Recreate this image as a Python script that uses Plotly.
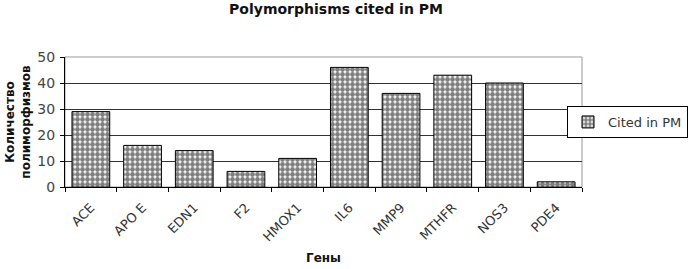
import plotly.graph_objects as go

genes = ["ACE", "APO E", "EDN1", "F2", "HMOX1", "IL6", "MMP9", "MTHFR", "NOS3", "PDE4"]
cited = [29, 16, 14, 6, 11, 46, 36, 43, 40, 2]
series_name = "Cited in PM"
y_ticks = [0, 10, 20, 30, 40, 50]

FONT = "DejaVu Sans, Arial"

fig = go.Figure()
fig.add_trace(go.Bar(
    x=genes, y=cited, name=series_name,
    marker=dict(
        color="white",
        line=dict(color="black", width=1),
        pattern=dict(shape=".", fgcolor="black", bgcolor="white", size=5, solidity=0.72),
    ),
    showlegend=True,
))

fig.update_layout(
    width=690, height=269,
    margin=dict(l=65, r=108, t=57, b=82, autoexpand=False),
    paper_bgcolor="white", plot_bgcolor="white",
    bargap=0.27,
    font=dict(family=FONT, color="#333"),
    title=dict(text="<b>Polymorphisms cited in PM</b>", x=0.487, xanchor="center",
               yref="container", y=0.965, yanchor="middle", font=dict(size=14, color="#111", family=FONT)),
    xaxis=dict(
        tickangle=-45, tickson="boundaries", ticks="outside", ticklen=4, tickcolor="black",
        showline=True, linecolor="black", linewidth=1, mirror=False, automargin=False,
        tickfont=dict(size=13, color="#333"), ticklabelstandoff=7,
        title=dict(text="<b>Гены</b>", font=dict(size=12, color="#111"), standoff=10),
    ),
    yaxis=dict(
        range=[0, 50], tickvals=y_ticks, ticks="outside", ticklen=4, tickcolor="black",
        showline=True, linecolor="black", linewidth=1, automargin=False,
        showgrid=True, gridcolor="#333", gridwidth=1, zeroline=False,
        tickfont=dict(size=14, color="#444"), ticklabelstandoff=2,
        title=dict(text="<b>Количество<br>полиморфизмов</b>", font=dict(size=12, color="#111"), standoff=4),
    ),
    legend=dict(x=1.205, xanchor="right", y=0.5, yanchor="middle",
                bordercolor="black", borderwidth=1, bgcolor="white",
                font=dict(size=13, color="#333"), itemwidth=30),
)
fig.add_shape(type="rect", xref="paper", yref="paper", x0=0, x1=1, y0=0, y1=1,
              line=dict(color="#999", width=1), layer="below")

fig.write_html("out.html", config={"displayModeBar": False},
               post_script="document.body.style.margin='0';")
